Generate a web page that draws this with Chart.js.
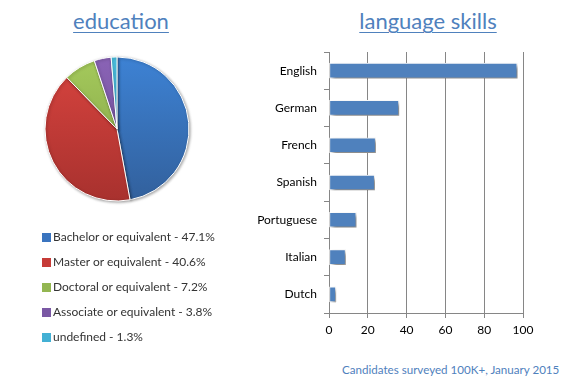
<!DOCTYPE html>
<html>
<head>
<meta charset="utf-8">
<script src="https://cdn.jsdelivr.net/npm/chart.js@4.4.0/dist/chart.umd.min.js"></script>
<style>
  body { margin: 0; width: 565px; height: 380px; background: #fff; font-family: Lato, sans-serif; position: relative; overflow: hidden; }
  .title { position: absolute; top: 7px; color: #4f81bd; font-size: 22px; text-decoration: underline; text-decoration-thickness: 1px; text-underline-offset: 3px; text-align: center; }
  #eduTitle { left: 0; width: 242px; }
  #langTitle { left: 300px; width: 256px; }
  #pieChart { position: absolute; left: 0; top: 0; }
  #barChart { position: absolute; left: 240px; top: 0; }
  #eduLegend { position: absolute; left: 42px; top: 229px; }
  #eduLegend .item { height: 25px; font-size: 12px; color: #333; white-space: nowrap; display: flex; align-items: flex-start; line-height: 16px; }
  #eduLegend .box { display: inline-block; width: 9px; height: 9px; margin: 4px 2px 0 0; }
  #footer { position: absolute; left: 342px; top: 363px; font-size: 11.6px; color: #4f81bd; white-space: nowrap; }
</style>
</head>
<body>
<div class="title" id="eduTitle">education</div>
<div class="title" id="langTitle">language skills</div>
<canvas id="pieChart" width="240" height="230"></canvas>
<div id="eduLegend"></div>
<canvas id="barChart" width="325" height="350"></canvas>
<div id="footer">Candidates surveyed 100K+, January 2015</div>
<script>
// education (percent)
var eduLabels = ['Bachelor or equivalent', 'Master or equivalent', 'Doctoral or equivalent', 'Associate or equivalent', 'undefined'];
var eduValues = [47.1, 40.6, 7.2, 3.8, 1.3];

// language skills
var languages = ['English', 'German', 'French', 'Spanish', 'Portuguese', 'Italian', 'Dutch'];
var languageValues = [97, 36, 24, 23.5, 14, 8.5, 3.5];
var xTicks = [0, 20, 40, 60, 80, 100];

var sliceTop = ['#3d82d4', '#d8443f', '#a5ca5c', '#8a63b6', '#4cc2e2'];
var sliceBottom = ['#32609c', '#a8312e', '#7e9d43', '#684c8e', '#3798bb'];
var sliceFlat = ['#3a74bf', '#c63b37', '#93b651', '#7a58a4', '#43b0d4'];

var PIE_R = 72;

// drop shadow for the marks
var shadowPlugin = {
    id: 'shadow',
    beforeDatasetsDraw: function (chart, args, opts) {
        var ctx = chart.ctx;
        ctx.save();
        ctx.shadowColor = opts.color;
        ctx.shadowBlur = opts.blur;
        ctx.shadowOffsetX = opts.x;
        ctx.shadowOffsetY = opts.y;
    },
    afterDatasetsDraw: function (chart) {
        chart.ctx.restore();
    }
};

var pie = new Chart(document.getElementById('pieChart'), {
    type: 'pie',
    data: {
        labels: eduLabels,
        datasets: [{
            data: eduValues,
            radius: PIE_R,
            borderColor: '#ffffff',
            borderWidth: 1,
            backgroundColor: function (c) {
                var area = c.chart.chartArea;
                if (!area) return sliceFlat[c.dataIndex];
                var cy = (area.top + area.bottom) / 2;
                var g = c.chart.ctx.createLinearGradient(0, cy - PIE_R, 0, cy + PIE_R);
                g.addColorStop(0, sliceTop[c.dataIndex]);
                g.addColorStop(1, sliceBottom[c.dataIndex]);
                return g;
            }
        }]
    },
    options: {
        responsive: false,
        animation: false,
        layout: { padding: { left: 26, right: 32, top: 40, bottom: 12 } },
        plugins: {
            tooltip: { enabled: false },
            legend: { display: false },
            shadow: { color: 'rgba(0,0,0,0.35)', blur: 3, x: 1, y: 1 }
        }
    },
    plugins: [shadowPlugin]
});

// html legend built from the pie's data
var legendEl = document.getElementById('eduLegend');
pie.data.labels.forEach(function (l, i) {
    var row = document.createElement('div');
    row.className = 'item';
    var box = document.createElement('span');
    box.className = 'box';
    box.style.background = sliceFlat[i];
    row.appendChild(box);
    row.appendChild(document.createTextNode(l + ' - ' + pie.data.datasets[0].data[i] + '%'));
    legendEl.appendChild(row);
});

new Chart(document.getElementById('barChart'), {
    type: 'bar',
    data: {
        labels: languages,
        datasets: [{
            data: languageValues,
            backgroundColor: '#4f81bd',
            borderColor: '#ffffff',
            borderWidth: 1,
            borderSkipped: false,
            barThickness: 15
        }]
    },
    options: {
        indexAxis: 'y',
        responsive: false,
        animation: false,
        layout: { padding: { left: 0, right: 42, top: 52, bottom: 7 } },
        plugins: {
            legend: { display: false },
            tooltip: { enabled: false },
            shadow: { color: 'rgba(0,0,0,0.5)', blur: 4, x: 3, y: 3 }
        },
        scales: {
            x: {
                min: xTicks[0],
                max: xTicks[xTicks.length - 1],
                afterBuildTicks: function (s) { s.ticks = xTicks.map(function (v) { return { value: v }; }); },
                afterFit: function (s) { s.height = 30; },
                ticks: { color: '#000', font: { family: 'Lato', size: 12 }, padding: 5 },
                grid: { color: '#868686', tickLength: 5 },
                border: { color: '#868686' }
            },
            y: {
                afterFit: function (s) { s.width = 89; },
                ticks: { color: '#000', font: { family: 'Lato', size: 12 }, padding: 7 },
                grid: { drawOnChartArea: false, color: '#868686', tickLength: 5, offset: true },
                border: { color: '#868686' }
            }
        }
    },
    plugins: [shadowPlugin]
});
</script>
</body>
</html>
